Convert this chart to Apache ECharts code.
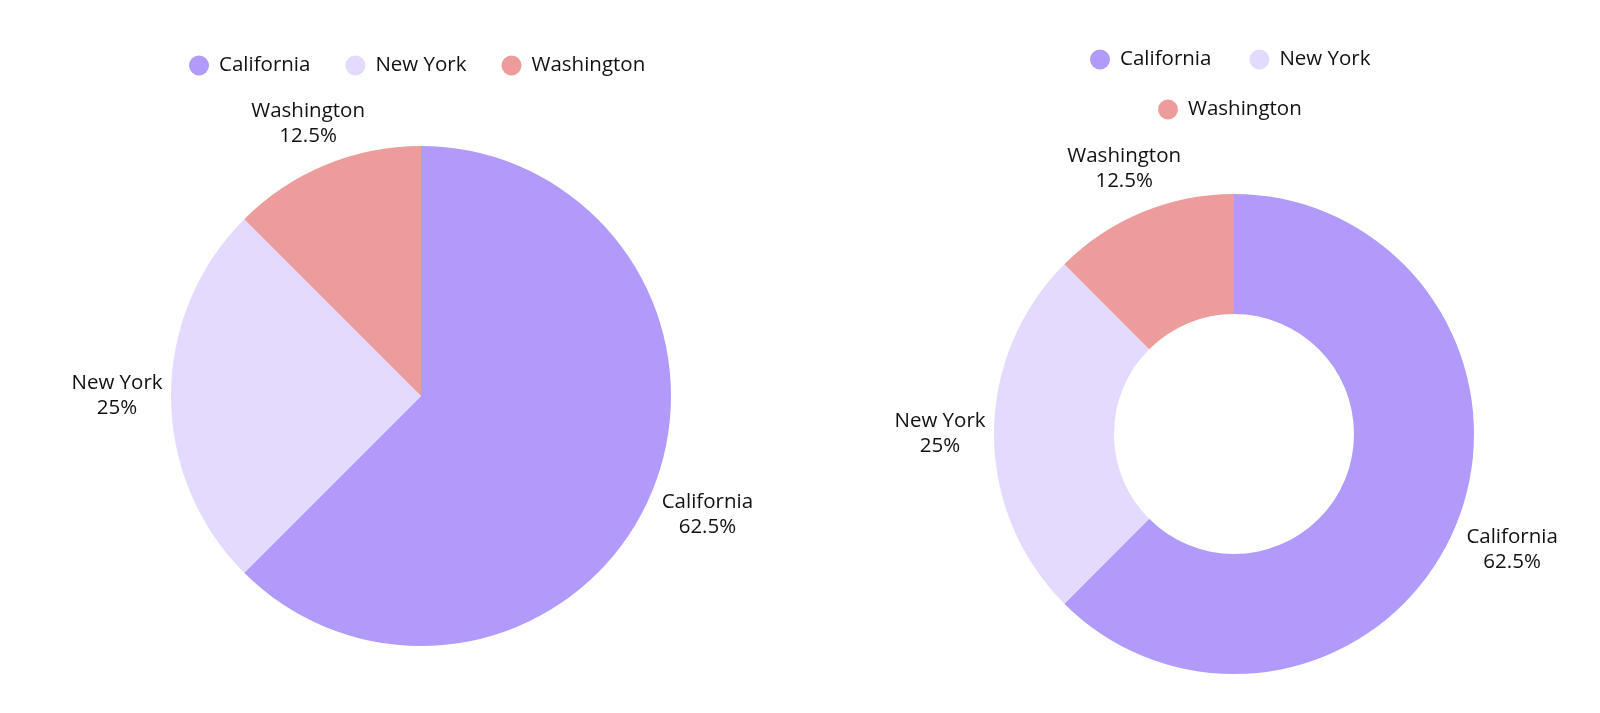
<!DOCTYPE html>
<html>
<head>
<meta charset="utf-8">
<script src="https://cdn.jsdelivr.net/npm/echarts@6/dist/echarts.min.js"></script>
<style>
html,body{margin:0;padding:0;background:#fff;}
#chart{width:1600px;height:713px;}
</style>
</head>
<body>
<div id="chart"></div>
<script>
const categories = ['California', 'New York', 'Washington'];
const values = [62.5, 25, 12.5];
const colors = ['#b29afb', '#e4dafd', '#ec9c9a'];
const pieLabelLen = [60, 54, 45];
const donutLabelLen = [61, 54, 47];

const FONT = 'Open Sans';
const textColor = '#111111';

function buildData(lens) {
  return categories.map((c, i) => ({
    name: c,
    value: values[i],
    itemStyle: { color: colors[i] },
    labelLine: { show: false, length: lens[i], length2: 0 }
  }));
}

const labelCfg = {
  show: true,
  position: 'outside',
  formatter: '{b}\n{d}%',
  fontFamily: FONT,
  fontSize: 20.5,
  lineHeight: 25,
  color: textColor,
  distanceToLabelLine: 0
};

const legendBase = {
  icon: 'circle',
  itemWidth: 20,
  itemHeight: 20,
  itemGap: 35,
  orient: 'horizontal',
  selectedMode: false,
  textStyle: { fontFamily: FONT, fontSize: 20.5, color: textColor, padding: [0, 0, 0, 5], lineHeight: 20 }
};

const chart = echarts.init(document.getElementById('chart'));
chart.setOption({
  animation: false,
  color: colors,
  legend: [
    Object.assign({}, legendBase, { data: categories, left: 184, top: 50 }),
    Object.assign({}, legendBase, { itemGap: 38, data: categories.slice(0, 2), left: 1085, top: 44 }),
    Object.assign({}, legendBase, { data: categories.slice(2), left: 1153, top: 94 })
  ],
  series: [
    {
      type: 'pie',
      center: [421, 396],
      radius: [0, 250],
      startAngle: 90,
      clockwise: true,
      avoidLabelOverlap: false,
      label: labelCfg,
      labelLayout: { align: 'center' },
      emphasis: { disabled: true },
      data: buildData(pieLabelLen)
    },
    {
      type: 'pie',
      center: [1234, 434],
      radius: [120, 240],
      startAngle: 90,
      clockwise: true,
      avoidLabelOverlap: false,
      label: labelCfg,
      labelLayout: { align: 'center' },
      emphasis: { disabled: true },
      data: buildData(donutLabelLen)
    }
  ]
});
</script>
</body>
</html>
